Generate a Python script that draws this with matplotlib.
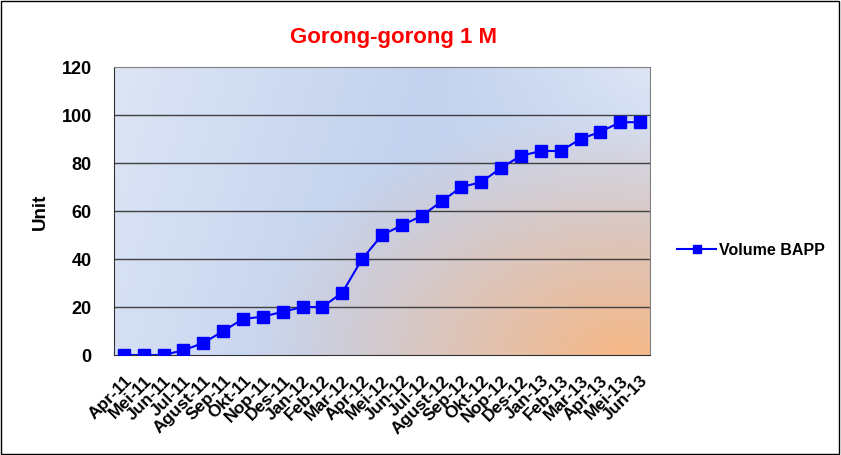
import numpy as np
import matplotlib.pyplot as plt
from matplotlib.colors import to_rgb

plt.rcParams['font.family'] = ['Liberation Sans', 'DejaVu Sans']

months = ['Apr-11', 'Mei-11', 'Jun-11', 'Jul-11', 'Agust-11', 'Sep-11', 'Okt-11',
          'Nop-11', 'Des-11', 'Jan-12', 'Feb-12', 'Mar-12', 'Apr-12', 'Mei-12',
          'Jun-12', 'Jul-12', 'Agust-12', 'Sep-12', 'Okt-12', 'Nop-12', 'Des-12',
          'Jan-13', 'Feb-13', 'Mar-13', 'Apr-13', 'Mei-13', 'Jun-13']
volume = [0, 0, 0, 2, 5, 10, 15, 16, 18, 20, 20, 26, 40, 50, 54, 58, 64, 70,
          72, 78, 83, 85, 85, 90, 93, 97, 97]

fig = plt.figure(figsize=(8.41, 4.55), dpi=100)
ax = fig.add_axes([114/841, 1 - 355/455, 536/841, 288/455])

# background: light blue left -> blue middle -> lighter top right, orange glow bottom right
h, w = 200, 400
xx, yy = np.meshgrid(np.linspace(0, 1, w), np.linspace(0, 1, h))
c1 = np.array(to_rgb('#dde5f5'))
c2 = np.array(to_rgb('#c3d2ee'))
c4 = np.array(to_rgb('#dde5f5'))
c3 = np.array(to_rgb('#f6b887'))
s = np.clip(xx * 0.85 + yy * 0.15, 0, 1)
t1 = np.clip(s / 0.5, 0, 1)[..., None]
img = c1 * (1 - t1) + c2 * t1
t2 = np.clip((xx - 0.6) / 0.4, 0, 1) * np.clip(1 - yy / 0.6, 0, 1)
t2 = t2[..., None]
img = img * (1 - t2) + c4 * t2
d = np.sqrt(((xx - 0.95) / 0.7) ** 2 + ((yy - 1.0) / 0.85) ** 2)
g = np.clip(1 - d, 0, 1)[..., None] ** 1.1
img = img * (1 - g) + c3 * g
ax.imshow(img, extent=[-0.5, 26.5, 0, 120], aspect='auto', origin='upper', zorder=0)

x = np.arange(len(months))
ax.plot(x, volume, color='#0000ff', marker='s', markersize=8, linewidth=1.5,
        label='Volume BAPP', zorder=3)

ax.set_xlim(-0.5, 26.5)
ax.set_ylim(0, 120)
ax.set_yticks(range(0, 121, 20))
for v in range(20, 120, 20):
    ax.axhline(v, color='#404040', linewidth=1, zorder=1)

ax.set_xticks(x)
ax.set_xticklabels(months, rotation=45, ha='right', rotation_mode='anchor',
                   fontsize=12.5, fontweight='bold')
for lbl in ax.get_yticklabels():
    lbl.set_fontweight('bold')
    lbl.set_fontsize(13)
ax.tick_params(axis='x', length=0, pad=13)
ax.tick_params(axis='y', length=0, pad=16)

ax.spines['left'].set_color('#303030')
ax.spines['bottom'].set_color('#303030')
ax.spines['top'].set_color('#808080')
ax.spines['right'].set_color('#808080')

fig.text(40/841, 1 - 212/455, 'Unit', fontsize=13.5, fontweight='bold',
         rotation=90, ha='center', va='center')
fig.text(393/841, 1 - 38/455, 'Gorong-gorong 1 M', color='#ff0000', fontsize=16,
         fontweight='bold', ha='center', va='center')

fig.legend(loc='center left', bbox_to_anchor=(663/841, 1 - 250/455), frameon=False,
           prop={'weight': 'bold', 'size': 11.5}, handlelength=2.4, handletextpad=0.2,
           markerscale=0.8)

border = plt.Rectangle((0.001, 0.002), 0.997, 0.996, transform=fig.transFigure,
                       fill=False, edgecolor='black', linewidth=1)
fig.patches.append(border)

fig.savefig('out.png', dpi=100)
